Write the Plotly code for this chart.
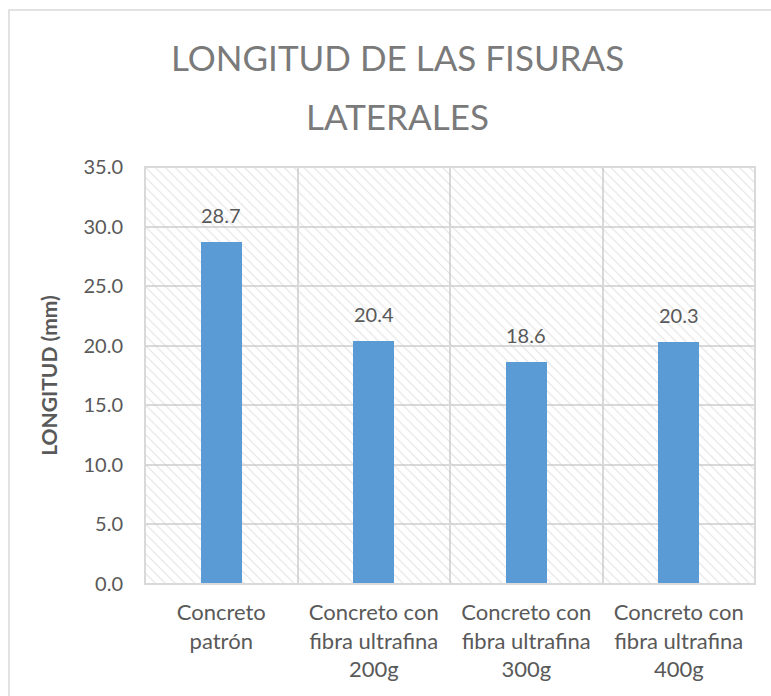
import plotly.graph_objects as go

# Chart data
categories = ["Concreto<br>patrón",
              "Concreto con<br>fibra ultrafina<br>200g",
              "Concreto con<br>fibra ultrafina<br>300g",
              "Concreto con<br>fibra ultrafina<br>400g"]
longitud_mm = [28.7, 20.4, 18.6, 20.3]
y_ticks = [0, 5, 10, 15, 20, 25, 30, 35]
title_lines = ["LONGITUD DE LAS FISURAS", "LATERALES"]
Y_MAX = 35

W, H = 771, 696
ML, MR, MT, MB = 145, 16, 167, 112
PW, PH = W - ML - MR, H - MT - MB

TEXT = "#595959"
GRID = "#d9d9d9"
BAR = "#5b9bd5"
FONT = "Lato"

x_pos = list(range(len(categories)))

fig = go.Figure()

# Diagonal hatched plot-area background
fig.add_trace(go.Bar(
    x=[(len(categories) - 1) / 2], y=[Y_MAX], width=[len(categories)],
    marker=dict(color="rgba(0,0,0,0)", line=dict(width=0),
                pattern=dict(shape="\\", fgcolor="#c6c6c6", bgcolor="rgba(0,0,0,0)",
                             size=7, solidity=0.16, fillmode="overlay")),
    hoverinfo="skip", showlegend=False,
))

# Data bars
fig.add_trace(go.Bar(
    x=x_pos, y=longitud_mm, width=0.27,
    marker=dict(color=BAR, line=dict(width=0)),
    showlegend=False,
))

# Value labels above each bar
for xi, v in zip(x_pos, longitud_mm):
    fig.add_annotation(x=xi, y=v, xref="x", yref="y", text=f"{v:.1f}",
                       showarrow=False, yanchor="bottom", yshift=13,
                       font=dict(family=FONT, size=20, color=TEXT))

# Chart title, one annotation per line for Excel-like line spacing
for i, line in enumerate(title_lines):
    fig.add_annotation(text=line, xref="paper", yref="paper",
                       x=(397 - ML) / PW, y=1 + (MT - 34 - 59 * i) / PH,
                       xanchor="center", yanchor="top", showarrow=False,
                       font=dict(family=FONT, size=35, color="#7a7a7a", weight=400))

# Plot-area frame and outer chart frame
fig.add_shape(type="rect", xref="paper", yref="paper", x0=0, x1=1, y0=0, y1=1,
              line=dict(color=GRID, width=2), layer="above")
fig.add_shape(type="rect", xref="paper", yref="paper",
              x0=(9 - ML) / PW, x1=1.2, y0=-0.5, y1=1 + (MT - 10) / PH,
              line=dict(color="#d9d9d9", width=1.5), layer="below")

fig.update_layout(
    width=W, height=H,
    margin=dict(l=ML, r=MR, t=MT, b=MB, pad=0),
    paper_bgcolor="white", plot_bgcolor="white",
    barmode="overlay", bargap=0,
    xaxis=dict(range=[-0.5, len(categories) - 0.5], tickvals=x_pos, ticktext=categories,
               showgrid=False, zeroline=False, showline=False, ticks="",
               ticklabelstandoff=13,
               tickfont=dict(family=FONT, size=22, color=TEXT),
               minor=dict(tickvals=[i - 0.5 for i in range(len(categories) + 1)],
                          showgrid=True, gridcolor=GRID, gridwidth=2, ticks="")),
    yaxis=dict(range=[0, Y_MAX], tickvals=y_ticks, tickformat=".1f",
               showgrid=True, gridcolor=GRID, gridwidth=2, zeroline=False,
               showline=False, ticks="outside", ticklen=17, tickcolor="rgba(0,0,0,0)",
               tickfont=dict(family=FONT, size=20, color=TEXT),
               title=dict(text="<b>LONGITUD (mm)</b>", standoff=20,
                          font=dict(family=FONT, size=21, color=TEXT))),
)

fig.write_html("out.html")
